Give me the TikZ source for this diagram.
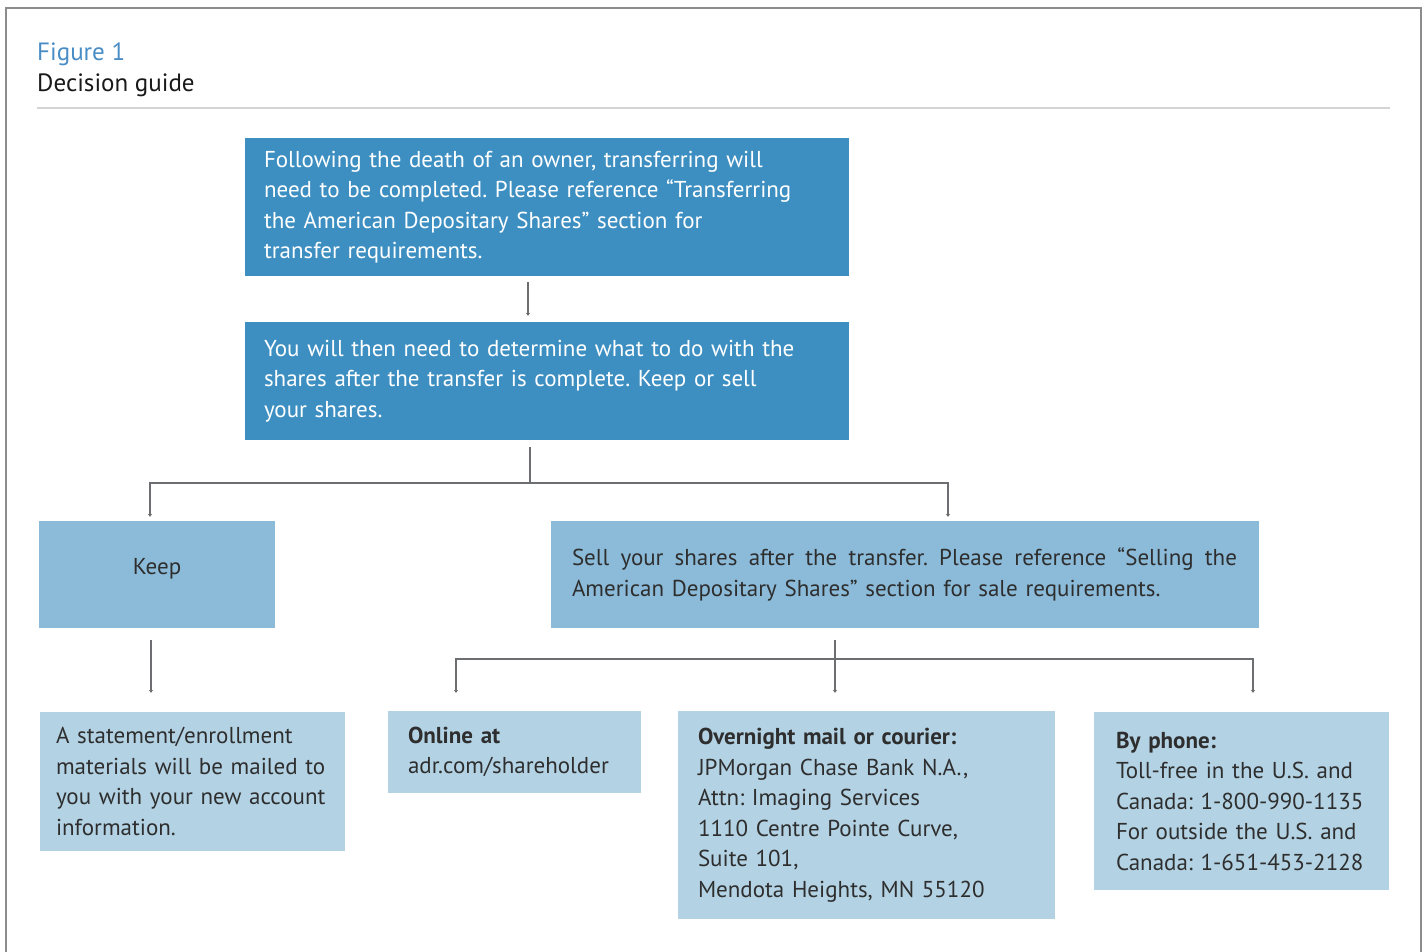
\documentclass[tikz,border=0pt]{standalone}
\usepackage{fontspec}
\setmainfont{PT Sans}
\frenchspacing
\hyphenpenalty=10000
\usetikzlibrary{arrows.meta}
\definecolor{darkbox}{HTML}{3D8FC2}
\definecolor{midbox}{HTML}{8BBBD9}
\definecolor{lightbox}{HTML}{B3D3E5}
\definecolor{figblue}{HTML}{4A8CC4}
\definecolor{linegray}{HTML}{6D6E71}
\definecolor{txt}{HTML}{2E2E2E}
\tikzset{
  boxbase/.style={inner ysep=0pt, align=left, font=\fontsize{23}{30.5}\selectfont},
  darkstep/.style={boxbase, fill=darkbox, text=white},
  midstep/.style={boxbase, fill=midbox, text=txt},
  lightstep/.style={boxbase, fill=lightbox, text=txt},
  conn/.style={draw=linegray, line width=2pt},
  arr/.style={conn, -{Stealth[length=3pt,width=4.5pt]}},
}
\begin{document}
\begin{tikzpicture}[x=1pt,y=-1pt]
\useasboundingbox (0,0) rectangle (1427,952);
% frame
\draw[color=black!45, line width=1.5pt] (6,952) -- (6,8) -- (1421,8) -- (1421,952);
% title
\node[anchor=base west, inner sep=0pt, text=figblue, font=\fontsize{25}{28}\selectfont] (fig) at (37,61) {Figure 1};
\node[anchor=base west, inner sep=0pt, text=black!90, font=\fontsize{25}{28}\selectfont] (title) at (37,92) {Decision guide};
\draw[color=black!17, line width=2pt] (37,108) -- (1390,108);

% boxes
\node[darkstep, minimum width=604pt, minimum height=138pt, inner xsep=19pt, text width=566pt] (b1) at (547,207)
 {Following the death of an owner, transferring will\\ need to be completed. Please reference “Transferring\\ the American Depositary Shares” section for\\ transfer requirements.};
\node[darkstep, minimum width=604pt, minimum height=118pt, inner xsep=19pt, text width=566pt] (b2) at (547,381)
 {You will then need to determine what to do with the\\ shares after the transfer is complete. Keep or sell\\ your shares.};
\node[midstep, align=center, minimum width=236pt, minimum height=107pt, text depth=16pt] (keep) at (157,574.5) {Keep};
\node[midstep, minimum width=708pt, minimum height=107pt, inner xsep=21pt, text width=666pt] (sell) at (905,574.5)
 {\hbox to 665pt{Sell\hfill your\hfill shares\hfill after\hfill the\hfill transfer.\hfill Please\hfill reference\hfill “Selling\hfill the}\\ American Depositary Shares” section for sale requirements.};
\node[lightstep, minimum width=305pt, minimum height=139pt, inner xsep=16pt, text width=273pt] (stmt) at (192.5,781.5)
 {\mbox{A statement/enrollment}\\ \mbox{materials will be mailed to}\\ \mbox{you with your new account}\\ information.};
\node[lightstep, minimum width=253pt, minimum height=82pt, inner xsep=20pt, text width=213pt] (online) at (514.5,752)
 {\textbf{Online at}\\ adr.com/shareholder};
\node[lightstep, minimum width=377pt, minimum height=208pt, inner xsep=20pt, text width=337pt] (mail) at (866.5,815)
 {\textbf{Overnight mail or courier:}\\ JPMorgan Chase Bank N.A.,\\ Attn: Imaging Services\\ 1110 Centre Pointe Curve,\\ Suite 101,\\ Mendota Heights, MN 55120};
\node[lightstep, minimum width=295pt, minimum height=178pt, inner xsep=22pt, text width=251pt] (phone) at (1241.5,801)
 {\textbf{By phone:}\\ \mbox{Toll-free in the U.S. and}\\ \mbox{Canada: 1-800-990-1135}\\ \mbox{For outside the U.S. and}\\ \mbox{Canada: 1-651-453-2128}};

% connectors
\draw[arr, shorten <=6pt, shorten >=6pt] ([xshift=-19pt]b1.south) -- ([xshift=-19pt]b2.north);
\coordinate (j1) at (530,483);
\draw[conn, shorten <=7pt] (b2.south -| j1) -- (j1);
\draw[arr, shorten >=4pt] (j1) -| ([xshift=-7pt]keep.north);
\draw[arr, shorten >=4pt] (j1) -| ([xshift=43pt]sell.north);
\draw[arr, shorten <=12pt, shorten >=19pt] ([xshift=-6pt]keep.south) -- ([xshift=-6pt]keep.south |- stmt.north);
\coordinate (j2) at (835,659);
\draw[arr, shorten <=12pt, shorten >=18pt] (sell.south -| j2) -- (mail.north -| j2);
\draw[arr, shorten >=18pt] (j2) -| ([xshift=-58.5pt]online.north);
\draw[arr, shorten >=19pt] (j2) -| ([xshift=11.5pt]phone.north);
\end{tikzpicture}
\end{document}
